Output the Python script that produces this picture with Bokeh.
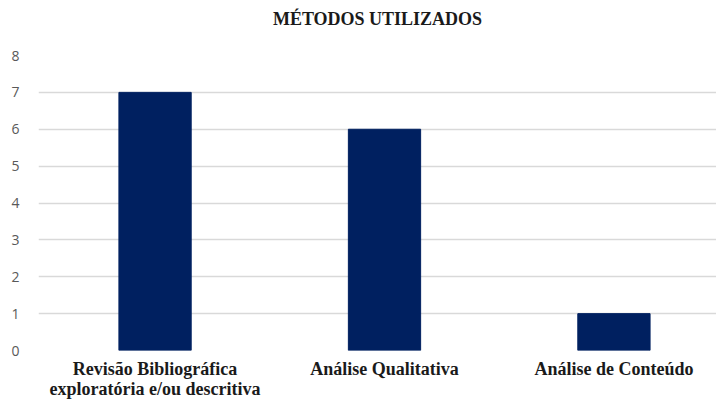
from bokeh.plotting import figure
from bokeh.models import Range1d, FixedTicker, Title
from bokeh.embed import file_html
from bokeh.resources import INLINE

categories = ["Revisão Bibliográfica\nexploratória e/ou descritiva", "Análise Qualitativa", "Análise de Conteúdo"]
values = [7, 6, 1]
y_ticks = [0, 1, 2, 3, 4, 5, 6, 7, 8]
title_text = "MÉTODOS UTILIZADOS"

xs = [i + 0.5 for i in range(len(categories))]

p = figure(width=716, height=401, output_backend="svg", toolbar_location=None,
           x_range=Range1d(-0.008, 2.947), y_range=Range1d(0, 8),
           title=title_text, min_border_left=38, min_border_right=0,
           min_border_top=55, min_border_bottom=50)

p.vbar(x=xs, top=values, width=0.315, fill_color="#002060", line_color="#002060")

p.title.align = "center"
p.title.text_font = "Liberation Serif"
p.title.text_font_style = "bold"
p.title.text_font_size = "18px"
p.title.text_color = "#1a1a1a"
p.title.standoff = 0

# empty spacer between the title and the plot area
p.add_layout(Title(text=" ", text_font_size="1px", standoff=24), "above")

p.outline_line_color = None
p.xgrid.grid_line_color = None
p.ygrid.grid_line_color = "#d9d9d9"
p.ygrid.grid_line_width = 1.5

p.yaxis.ticker = FixedTicker(ticks=y_ticks)
p.yaxis.axis_line_color = None
p.yaxis.major_tick_line_color = None
p.yaxis.minor_tick_line_color = None
p.yaxis.major_label_text_font = "Open Sans"
p.yaxis.major_label_text_font_size = "14px"
p.yaxis.major_label_text_color = "#595959"
p.yaxis.major_label_standoff = 13

p.xaxis.ticker = FixedTicker(ticks=xs)
p.xaxis.major_label_overrides = {x: c for x, c in zip(xs, categories)}
p.xaxis.axis_line_color = None
p.xaxis.major_tick_line_color = None
p.xaxis.minor_tick_line_color = None
p.xaxis.major_label_text_font = "Liberation Serif"
p.xaxis.major_label_text_font_style = "bold"
p.xaxis.major_label_text_font_size = "18px"
p.xaxis.major_label_text_line_height = 1.0
p.xaxis.major_label_text_color = "#1a1a1a"
p.xaxis.major_label_standoff = 2

open("out.html", "w").write(file_html(p, INLINE))
